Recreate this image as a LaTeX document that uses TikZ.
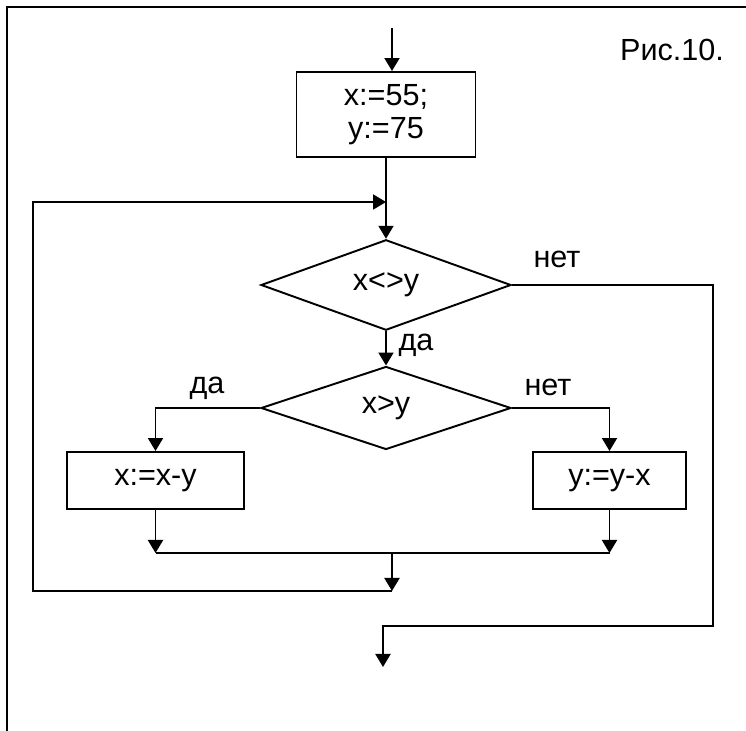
\documentclass[tikz,border=0pt]{standalone}
\usepackage{fontspec}
\setmainfont{Liberation Sans}
\usetikzlibrary{arrows.meta,shapes.geometric,positioning}

\begin{document}
\begin{tikzpicture}[->, >={Triangle[length=2.6mm,width=3mm]}, line width=1.1pt,
  every node/.style={font=\fontsize{17.4}{18.8}\selectfont},
  box/.style={draw, rectangle, minimum height=1.14cm, align=center},
  test/.style={draw, diamond, minimum width=5cm, minimum height=1.7cm, inner sep=0pt}]
\path[use as bounding box] (0,0) rectangle (14.92,-14.62);
\draw[-] (0.14,-14.62) -- (0.14,-0.14) -- (14.92,-0.14);
\node[anchor=base] (fig) at (13.44,-1.22) {Рис.10.};
\node[box, minimum width=3.58cm, minimum height=1.70cm] (init) at (7.72,-2.29) {x:=55;\\y:=75};
\node[test] (cond1) at (7.72,-5.70) {x<>y};
\node[test, minimum height=1.66cm] (cond2) at (7.72,-8.16) {x>y};
\node[box, minimum width=3.54cm] (dec) at (3.11,-9.61) {x:=x-y};
\node[box, minimum width=3.06cm] (inc) at (12.19,-9.61) {y:=y-x};
\node[anchor=base] (no1) at (11.14,-5.36) {нет};
\node[anchor=base] (yes1) at (8.32,-7.02) {да};
\node[anchor=base] (yes2) at (4.14,-7.88) {да};
\node[anchor=base] (no2) at (10.96,-7.92) {нет};
\coordinate (in) at (7.84,-0.56);
\coordinate (join) at (7.84,-11.06);
\coordinate (back) at (7.84,-11.82);
\coordinate (top) at (0.66,-4.04);
\coordinate (turn) at (14.26,-12.52);
\coordinate (out) at (7.66,-13.34);
\draw (in) -- (in |- init.north);
\draw (init.south) -- (cond1.north);
\draw (cond1.south) -- (cond2.north);
\draw (cond2.west) -| (dec.north);
\draw (cond2.east) -| (inc.north);
\draw (dec.south) -- (dec.south |- join);
\draw (inc.south) -- (inc.south |- join);
\draw[-] (dec.south |- join) -- (inc.south |- join);
\draw (join) -- (back);
\draw (back) -| (top) -- (init.south |- top);
\draw (cond1.east) -| (turn) -| (out);
\end{tikzpicture}
\end{document}
